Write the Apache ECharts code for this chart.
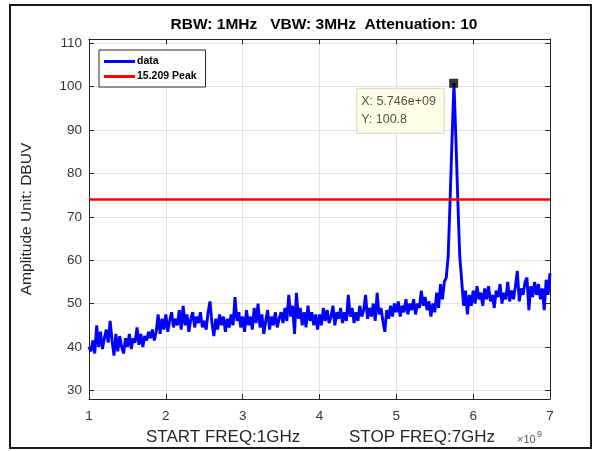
<!DOCTYPE html>
<html>
<head>
<meta charset="utf-8">
<script src="https://cdn.jsdelivr.net/npm/echarts@6/dist/echarts.min.js"></script>
<style>
  html, body { margin: 0; padding: 0; background: #fff; }
  #chart { width: 595px; height: 451px; }
</style>
</head>
<body>
<div id="chart"></div>
<script>
// sweep 1 GHz .. 7 GHz, one reading every 25 MHz
const freqStart = 1;
const freqStep = 0.025;
const amplitude = [
  40, 39, 41.5, 38.5, 45, 40, 43.5, 39.5, 42, 44, 41, 46, 41.5, 38, 43, 39, 42.5, 40, 38.5, 42,
  40, 43, 39.5, 42, 41, 44.5, 40.5, 43, 40, 42.5, 41.5, 43.5, 42, 44, 41.5, 43.5, 47.5, 43, 46.5, 44,
  47.5, 43.5, 46, 48, 44.5, 46.5, 45, 48.5, 44, 49.5, 45, 47.5, 43.5, 46.5, 48, 44.5, 47, 45.5, 48, 44.5,
  46, 44, 48, 50.5, 45.5, 42.5, 46.5, 44, 47.5, 45, 47, 43.5, 46.5, 44.5, 47.5, 45, 51.5, 46, 48, 44.5,
  47, 43.5, 48.5, 45, 47, 44, 49, 45.5, 50, 44.5, 47.5, 43, 46, 48.5, 44, 47, 45, 48, 44.5, 46.5,
  48, 45.5, 49, 46, 52, 47, 49.5, 43, 52.5, 46.5, 49, 45, 48, 44.5, 49.5, 46, 48, 45, 47.5, 44,
  47.5, 45, 49, 46, 48.5, 45.5, 47, 49.5, 45, 48, 46.5, 49, 45.5, 48, 46, 52, 47, 49, 45.5, 48,
  46, 49.5, 47, 48.5, 52, 46.5, 49, 47, 50, 46, 52.5, 47.5, 49, 46, 43.5, 48.5, 46.5, 49.5, 47, 50,
  48, 50.5, 47, 49.5, 48, 51, 47.5, 50, 48.5, 51, 47.5, 50, 49, 53, 49.5, 51.5, 48.5, 50.5, 47, 50,
  48, 52.5, 49, 54.5, 51, 55, 56, 61, 74, 88, 100.8, 88, 74, 61, 55.5, 49.5, 53, 47.5, 52, 49.5,
  53, 50, 54, 51, 52.5, 49.5, 53.5, 51, 54, 50.5, 52, 49, 53, 51.5, 54.5, 50, 52.5, 51, 55, 50.5,
  53, 51, 54, 57.5, 50.5, 53.5, 52, 55, 56, 48.5, 54, 51.5, 55, 52, 54.5, 51, 53.5, 48.5, 55.5, 52, 57
];
const limitName = '15.209 Peak';
const limitValue = 74;
const peakFreq = 5.746;   // GHz
const peakAmp = 100.8;
const xTicks = [1, 2, 3, 4, 5, 6, 7];
const yTicks = [30, 40, 50, 60, 70, 80, 90, 100, 110];

const font = 'Liberation Sans, Arial, sans-serif';
const axisColor = '#262626';

function fmtExp(v) {
  // matlab style 5.746e+09
  const [m, e] = v.toExponential(3).split('e');
  const n = Math.abs(parseInt(e, 10));
  return m + 'e' + (e[0] === '-' ? '-' : '+') + (n < 10 ? '0' + n : n);
}

const trace = amplitude.map((a, i) => [freqStart + i * freqStep, a]);

const chart = echarts.init(document.getElementById('chart'));

const axisCommon = {
  min: 1, max: 7, interval: 1,
  axisLine: { lineStyle: { color: axisColor, width: 1 } },
  axisTick: { inside: true, length: 5, lineStyle: { color: axisColor } }
};
const yCommon = {
  type: 'value', min: 28, max: 111,
  axisLine: { show: true, lineStyle: { color: axisColor, width: 1 } },
  axisTick: { show: true, inside: true, length: 5, customValues: yTicks, lineStyle: { color: axisColor } }
};

chart.setOption({
  animation: false,
  textStyle: { fontFamily: font },
  title: {
    text: 'RBW: 1MHz   VBW: 3MHz  Attenuation: 10',
    left: 319, top: 12, textAlign: 'center',
    textStyle: { fontSize: 15.5, fontWeight: 'bold', color: '#000', fontFamily: font }
  },
  grid: { left: 89, right: 45, top: 39, bottom: 52 },
  legend: {
    orient: 'vertical', left: 99, top: 50,
    data: ['data', limitName],
    icon: 'rect', itemWidth: 31, itemHeight: 3, itemGap: 4,
    padding: [6, 9, 5, 5],
    borderColor: axisColor, borderWidth: 1, backgroundColor: '#fff',
    textStyle: { fontSize: 10.5, fontWeight: 'bold', color: '#000', fontFamily: font, padding: [0, 0, 0, -3] }
  },
  xAxis: [
    Object.assign({ type: 'value', position: 'bottom',
      axisLabel: { customValues: xTicks, color: '#333', fontSize: 13.5, margin: 10, fontFamily: font },
      splitLine: { show: true, lineStyle: { color: '#e3e3e3' } } }, axisCommon),
    Object.assign({ type: 'value', position: 'top', axisLabel: { show: false }, splitLine: { show: false } }, axisCommon)
  ],
  yAxis: [
    Object.assign({ position: 'left',
      name: 'Amplitude Unit: DBUV', nameLocation: 'middle', nameGap: 54,
      nameTextStyle: { fontSize: 15.5, color: '#262626', fontFamily: font },
      axisLabel: { customValues: yTicks, color: '#333', fontSize: 13.5, margin: 7, fontFamily: font },
      splitLine: { show: true, lineStyle: { color: '#e3e3e3' } } }, yCommon),
    Object.assign({ position: 'right', axisLabel: { show: false }, splitLine: { show: false } }, yCommon)
  ],
  series: [
    {
      name: 'data', type: 'line', data: trace, showSymbol: false,
      lineStyle: { color: '#0000ff', width: 2.9 }, itemStyle: { color: '#0000ff' }, z: 3
    },
    {
      name: limitName, type: 'line', data: [[1, limitValue], [7, limitValue]], showSymbol: false,
      lineStyle: { color: '#ff0000', width: 2.4 }, itemStyle: { color: '#ff0000' }, z: 4
    },
    {
      name: 'tip', type: 'scatter', data: [[peakFreq, peakAmp]],
      symbol: 'rect', symbolSize: 9, itemStyle: { color: '#000' }, z: 6,
      label: {
        show: true, position: [-92, 10],
        formatter: 'X: ' + fmtExp(peakFreq * 1e9) + '\nY: ' + peakAmp,
        fontSize: 12.5, color: '#262626', lineHeight: 18, fontFamily: font,
        backgroundColor: '#ffffe1', borderColor: '#d0d0c0', borderWidth: 1,
        padding: [4, 8, 4, 4], align: 'left', verticalAlign: 'top'
      }
    }
  ],
  graphic: [
    { type: 'rect', shape: { x: 10, y: 5, width: 581, height: 443 }, style: { fill: 'none', stroke: '#1a1a1a', lineWidth: 2 }, silent: true },
    { type: 'text', left: 146, top: 429, style: { text: 'START FREQ:1GHz', fontSize: 17, fill: '#262626', fontFamily: font } },
    { type: 'text', left: 349, top: 429, style: { text: 'STOP FREQ:7GHz', fontSize: 17, fill: '#262626', fontFamily: font } },
    { type: 'text', left: 517, top: 434, style: { text: '\u00d710', fontSize: 11, fill: '#555', fontFamily: font } },
    { type: 'text', left: 537, top: 430, style: { text: '9', fontSize: 9, fill: '#555', fontFamily: font } }
  ]
});
</script>
</body>
</html>
